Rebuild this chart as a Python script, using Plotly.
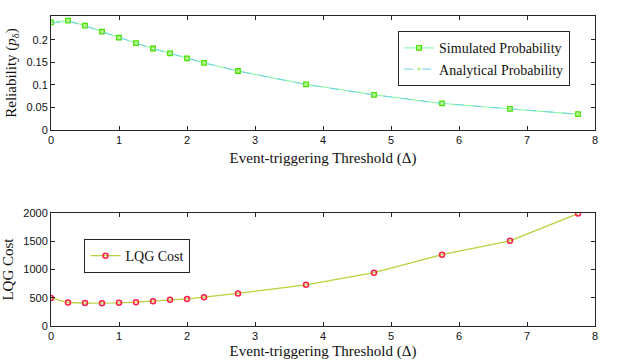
import plotly.graph_objects as go

# event-triggering thresholds
delta = [0, 0.25, 0.5, 0.75, 1.0, 1.25, 1.5, 1.75, 2.0, 2.25, 2.75, 3.75, 4.75, 5.75, 6.75, 7.75]

# reliability
sim_prob = [0.239, 0.243, 0.232, 0.2185, 0.205, 0.193, 0.181, 0.170, 0.159, 0.149, 0.131, 0.1015, 0.078, 0.059, 0.0467, 0.035]
ana_prob = [0.237, 0.242, 0.231, 0.218, 0.205, 0.193, 0.181, 0.170, 0.159, 0.149, 0.131, 0.101, 0.078, 0.059, 0.047, 0.035]

# LQG cost
lqg_cost = [498, 416, 406, 404, 410, 422, 440, 463, 480, 511, 576, 730, 943, 1263, 1507, 1990]

serif = "Liberation Serif, DejaVu Serif, serif"
sans = "Liberation Sans, Arial, sans-serif"
axcol = "#262626"

fig = go.Figure()

fig.add_trace(go.Scatter(
    x=delta, y=sim_prob, name="Simulated Probability",
    mode="lines+markers",
    line=dict(color="#7dfc9a", width=1),
    marker=dict(symbol="square", size=4.5, color="#c8ff9a", line=dict(color="#44e000", width=1.3)),
    xaxis="x", yaxis="y", legend="legend"))
fig.add_trace(go.Scatter(
    x=delta, y=ana_prob, name="Analytical Probability",
    mode="lines+markers",
    line=dict(color="#6fd0ea", width=1, dash="dash"),
    marker=dict(symbol="circle", size=2.5, color="#c8f5a0", line=dict(color="#9be36a", width=0.5)),
    xaxis="x", yaxis="y", legend="legend"))

fig.add_trace(go.Scatter(
    x=delta, y=lqg_cost, name="LQG Cost",
    mode="lines+markers",
    line=dict(color="#b5d33c", width=1.3),
    marker=dict(symbol="circle-open", size=5, color="#ff1f4a", line=dict(width=1.5)),
    xaxis="x2", yaxis="y2", legend="legend2"))

axis_style = dict(
    showline=True, linecolor=axcol, linewidth=1, mirror="ticks",
    ticks="inside", ticklen=4, tickcolor=axcol,
    showgrid=False, zeroline=False, automargin=False,
    tickfont=dict(family=sans, size=11, color="#111"),
    title_font=dict(family=serif, size=15, color="#111"),
)

xtitle = "Event-triggering Threshold (Δ)"

fig.update_layout(
    width=640, height=360,
    margin=dict(l=0, r=0, t=0, b=0),
    paper_bgcolor="white", plot_bgcolor="white",
    xaxis=dict(axis_style, domain=[0.0797, 0.9297], range=[0, 8], dtick=1,
               anchor="y", title=dict(text=xtitle, standoff=7)),
    yaxis=dict(axis_style, domain=[0.639, 0.9556], range=[0, 0.2533],
               tickvals=[0, 0.05, 0.1, 0.15, 0.2], anchor="x",
               title=dict(text="Reliability (<i>p</i><sub>δ</sub>)", standoff=6)),
    xaxis2=dict(axis_style, domain=[0.0797, 0.9297], range=[0, 8], dtick=1,
                anchor="y2", title=dict(text=xtitle, standoff=6)),
    yaxis2=dict(axis_style, domain=[0.0944, 0.4083], range=[0, 2000], dtick=500,
                anchor="x2", title=dict(text="LQG Cost", standoff=12)),
    legend=dict(x=0.622, y=0.913, xanchor="left", yanchor="top",
                bgcolor="white", bordercolor=axcol, borderwidth=1,
                font=dict(family=serif, size=14, color="#111"),
                itemwidth=30, tracegroupgap=0),
    legend2=dict(x=0.132, y=0.336, xanchor="left", yanchor="top",
                 bgcolor="white", bordercolor=axcol, borderwidth=1,
                 font=dict(family=serif, size=14, color="#111"),
                 itemwidth=30),
    showlegend=True,
)

# drop the default page margin so the figure sits at the window's corner
fig.write_html("out.html", config={"displayModeBar": False},
               post_script="document.body.style.margin='0';")
